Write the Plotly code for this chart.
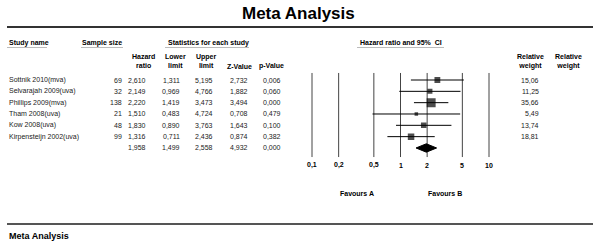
import math
import plotly.graph_objects as go

# ---------------- data ----------------
studies = ["Sottnik 2010(mva)", "Selvarajah 2009(uva)", "Phillips 2009(mva)",
           "Tham 2008(uva)", "Kow 2008(uva)", "Kirpensteijn 2002(uva)"]
sample_size = [69, 32, 138, 21, 48, 99]
hazard_ratio = [2.610, 2.149, 2.220, 1.510, 1.830, 1.316]
lower_limit = [1.311, 0.969, 1.419, 0.483, 0.890, 0.711]
upper_limit = [5.195, 4.766, 3.473, 4.724, 3.763, 2.436]
z_value = [2.732, 1.882, 3.494, 0.708, 1.643, 0.874]
p_value = [0.006, 0.060, 0.000, 0.479, 0.100, 0.382]
rel_weight = [15.06, 11.25, 35.66, 5.49, 13.74, 18.81]

summary_hr = 1.958
summary_lower = 1.499
summary_upper = 2.558
summary_z = 4.932
summary_p = 0.000

tick_vals = [0.1, 0.2, 0.5, 1, 2, 5, 10]
tick_text = ["0,1", "0,2", "0,5", "1", "2", "5", "10"]

# ---------------- helpers ----------------
W, H = 600, 247
FONT = "Liberation Sans, Arial, sans-serif"
ROW0, ROWH = 80.0, 11.33  # pixel of first row, row spacing
FS = 7  # small text size


def py(px):
    return 1 - px / H


def px_(x):
    return x / W


def fmt(v, d=3):
    return f"{v:.{d}f}".replace(".", ",")


n = len(studies)
rows = list(range(n))
sum_row = n

fig = go.Figure()

# vertical reference lines
vx, vy = [], []
for t in tick_vals:
    vx += [t, t, None]
    vy += [-0.62, 6.8, None]
fig.add_trace(go.Scatter(x=vx, y=vy, mode="lines",
                         line=dict(color="#444", width=1),
                         hoverinfo="skip", showlegend=False))

# confidence intervals
cx, cy = [], []
for i in rows:
    cx += [lower_limit[i], upper_limit[i], None]
    cy += [i, i, None]
fig.add_trace(go.Scatter(x=cx, y=cy, mode="lines",
                         line=dict(color="black", width=1),
                         hoverinfo="skip", showlegend=False))

# point estimates
fig.add_trace(go.Scatter(
    x=hazard_ratio, y=rows, mode="markers",
    marker=dict(symbol="square", color="black",
                size=[1.5 * math.sqrt(w) for w in rel_weight],
                line=dict(width=0)),
    hoverinfo="skip", showlegend=False))

# summary diamond
dh = 0.37
fig.add_trace(go.Scatter(
    x=[summary_lower, summary_hr, summary_upper, summary_hr, summary_lower],
    y=[sum_row, sum_row - dh, sum_row, sum_row + dh, sum_row],
    mode="lines", fill="toself", fillcolor="black",
    line=dict(color="black", width=1),
    hoverinfo="skip", showlegend=False))

ann = []


def add(text, x, y, xref="paper", yref="paper", size=FS, bold=False,
        xanchor="center", yanchor="middle", color="#222"):
    if bold:
        text = f"<b>{text}</b>"
    ann.append(dict(text=text, x=x, y=y, xref=xref, yref=yref,
                    xanchor=xanchor, yanchor=yanchor, showarrow=False,
                    font=dict(family=FONT, size=size, color=color),
                    align="center"))


# title
add("Meta Analysis", px_(298), py(14), size=17, bold=True, color="black")

# headers
hc = "black"
add("Study name", px_(7), py(43), xanchor="left", bold=True, color=hc)
add("Sample size", px_(102), py(43), bold=True, color=hc)
add("Statistics for each study", px_(208), py(43), bold=True, color=hc)
add("Hazard ratio and 95%  CI", px_(401), py(43), bold=True, color=hc)
add("Hazard<br>ratio", px_(143), py(61.5), bold=True, color=hc)
add("Lower<br>limit", px_(175), py(61.5), bold=True, color=hc)
add("Upper<br>limit", px_(206), py(61.5), bold=True, color=hc)
add("Z-Value", px_(239), py(66), bold=True, color=hc)
add("p-Value", px_(271), py(66), bold=True, color=hc)
add("Relative<br>weight", px_(530), py(61.5), bold=True, color=hc)
add("Relative<br>weight", px_(568), py(61.5), bold=True, color=hc)

# table rows
for i in rows:
    add(studies[i], px_(7), i, yref="y", xanchor="left")
    add(str(sample_size[i]), px_(124), i, yref="y", xanchor="right")
    add(fmt(hazard_ratio[i]), px_(148), i, yref="y", xanchor="right")
    add(fmt(lower_limit[i]), px_(182), i, yref="y", xanchor="right")
    add(fmt(upper_limit[i]), px_(215), i, yref="y", xanchor="right")
    add(fmt(z_value[i]), px_(250), i, yref="y", xanchor="right")
    add(fmt(p_value[i]), px_(283), i, yref="y", xanchor="right")
    add(fmt(rel_weight[i], 2), px_(541), i, yref="y", xanchor="right")

add(fmt(summary_hr), px_(148), sum_row, yref="y", xanchor="right")
add(fmt(summary_lower), px_(182), sum_row, yref="y", xanchor="right")
add(fmt(summary_upper), px_(215), sum_row, yref="y", xanchor="right")
add(fmt(summary_z), px_(250), sum_row, yref="y", xanchor="right")
add(fmt(summary_p), px_(283), sum_row, yref="y", xanchor="right")

# axis tick labels
for v, t in zip(tick_vals, tick_text):
    add(t, math.log10(v), py(165), xref="x", bold=True, color="black")

add("Favours A", px_(357), py(193), bold=True, color="black")
add("Favours B", px_(445), py(193), bold=True, color="black")

# footer
add("Meta Analysis", px_(7), py(236), xanchor="left", size=9, bold=True, color="black")

shapes = [
    dict(type="line", xref="paper", yref="paper", x0=px_(7), x1=px_(593),
         y0=py(27), y1=py(27), line=dict(color="#333", width=2)),
    dict(type="line", xref="paper", yref="paper", x0=px_(7), x1=px_(593),
         y0=py(224), y1=py(224), line=dict(color="#555", width=2)),
]
for a, b in [(7, 47), (81, 123), (165, 249), (357, 444)]:
    shapes.append(dict(type="line", xref="paper", yref="paper",
                       x0=px_(a), x1=px_(b), y0=py(47.5), y1=py(47.5),
                       line=dict(color="#bbb", width=1)))

PPD = 88.5  # pixels per decade
x_lo, x_hi = -1.05, 1.05
one_px = 400.5
fig.update_layout(
    width=W, height=H,
    margin=dict(l=0, r=0, t=0, b=0),
    paper_bgcolor="white", plot_bgcolor="rgba(0,0,0,0)",
    xaxis=dict(type="log", range=[x_lo, x_hi],
               domain=[(one_px + x_lo * PPD) / W, (one_px + x_hi * PPD) / W],
               visible=False, fixedrange=True),
    yaxis=dict(range=[(H - ROW0) / ROWH, -ROW0 / ROWH], domain=[0, 1],
               visible=False, fixedrange=True),
    annotations=ann, shapes=shapes, showlegend=False,
)

fig.write_html("out.html", config={"displayModeBar": False},
               post_script="document.body.style.margin='0';document.body.style.overflow='hidden';")
